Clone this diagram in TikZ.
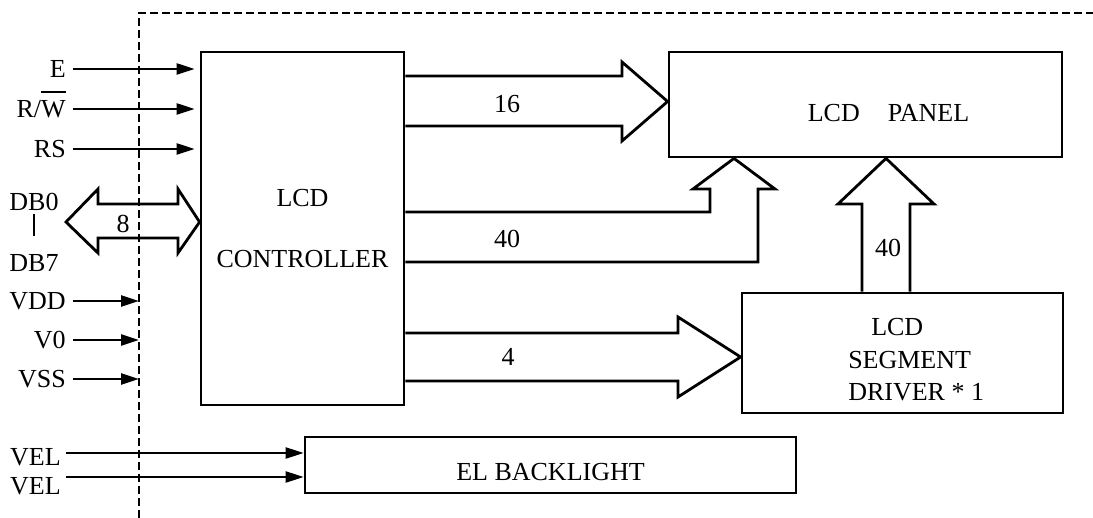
\documentclass[tikz,border=0pt]{standalone}
\usepackage{fontspec}
\setmainfont{Liberation Serif}
\usepackage{tikz}
\usetikzlibrary{arrows.meta, positioning}

\begin{document}
\begin{tikzpicture}[
    x=1pt, y=-1pt,
    font=\fontsize{26}{31}\selectfont,
    line width=2.5pt,
    block/.style={rectangle, draw, line width=2.8pt, inner sep=0pt},
    sig/.style={anchor=east, inner xsep=6pt, inner ysep=0pt},
    arrow/.style={line width=2.5pt, -{Triangle[length=18pt,width=11pt]}},
    bus/.style={line width=2.8pt, line join=miter},
    border/.style={line width=2pt, dash pattern=on 8pt off 4pt}
]
\useasboundingbox (0,0) rectangle (1093,518);

\node[block, minimum width=203pt, minimum height=353pt, align=center] (ctrl) at (302.5,228.5) {LCD\\[30pt]CONTROLLER};
\node[block, minimum width=393pt, minimum height=105pt] (panel) at (865.5,104.5) {};
\node[block, minimum width=321pt, minimum height=120pt] (driver) at (902.5,353) {};
\node[block, minimum width=491pt, minimum height=56pt] (el) at (550.5,465) {};

\node at ([xshift=23pt,yshift=-9pt]panel.center) {LCD\hspace{28pt}PANEL};
\node[anchor=west, inner sep=0pt, align=left, font=\fontsize{26}{32.5}\selectfont] at ([xshift=-55.5pt,yshift=-7pt]driver.center) {\hspace*{23pt}LCD\\SEGMENT\\DRIVER * 1};
\node at ([yshift=-7pt]el.center) {EL BACKLIGHT};

\coordinate (rim) at (139,13);
\draw[border] (139,518) -- (rim) -- (1093,13);

\node[sig] (e) at (73,69) {E};
\node[sig] (rw) at (73,109) {R/\smash{\rlap{\rule[24.5pt]{24.5pt}{2.2pt}}}W};
\node[sig] (rs) at (73,149) {RS};
\node[inner sep=0pt] (db0) at (34,202) {DB0};
\node[inner sep=0pt] (db7) at (34,263) {DB7};
\node[sig] (vdd) at (73,301) {VDD};
\node[sig] (vzero) at (73,340) {V0};
\node[sig] (vss) at (73,379) {VSS};
\node[sig, inner xsep=4pt] (velA) at (66,457) {VEL};
\node[sig, inner xsep=4pt] (velB) at (66,486) {VEL};

\draw[line width=2.2pt, shorten <=2pt, shorten >=17pt] (db0) -- (db7);

\foreach \s in {e,rw,rs}
    \draw[arrow, shorten >=5pt] (\s) -- (\s -| ctrl.west);
\foreach \s in {vdd,vzero,vss}
    \draw[arrow] (\s) -- (\s -| rim);
\draw[arrow] ([yshift=4pt]velA.east) -- ([yshift=12pt]el.west);
\draw[arrow] ([yshift=9pt]velB.east) -- ([yshift=-12pt]el.west);

\draw[bus] (66,222) -- (98,189) -- (98,204) -- (178,204) -- (178,189) -- (ctrl.west |- 0,222)
    -- (178,253) -- (178,238) -- (98,238) -- (98,253) -- cycle;
\draw[bus] (ctrl.east |- 0,76) -- (622,76) -- (622,62) -- (panel.west |- 0,101.5)
    -- (622,141) -- (622,126) -- (ctrl.east |- 0,126);
\draw[bus] (ctrl.east |- 0,212) -- (710,212) -- (710,189) -- (693,189) -- (panel.south -| 734,0)
    -- (775,189) -- (758,189) -- (758,262) -- (ctrl.east |- 0,262);
\draw[bus] (driver.north -| 862,0) -- (862,204) -- (838,204) -- (panel.south -| 886,0)
    -- (934,204) -- (910,204) -- (driver.north -| 910,0);
\draw[bus] (ctrl.east |- 0,333) -- (678,333) -- (678,317) -- (driver.west |- 0,357)
    -- (678,397) -- (678,381) -- (ctrl.east |- 0,381);

\node at (123,224) {8};
\node at (507,104) {16};
\node at (507,239) {40};
\node at (888,248) {40};
\node at (508,357) {4};

\end{tikzpicture}
\end{document}
